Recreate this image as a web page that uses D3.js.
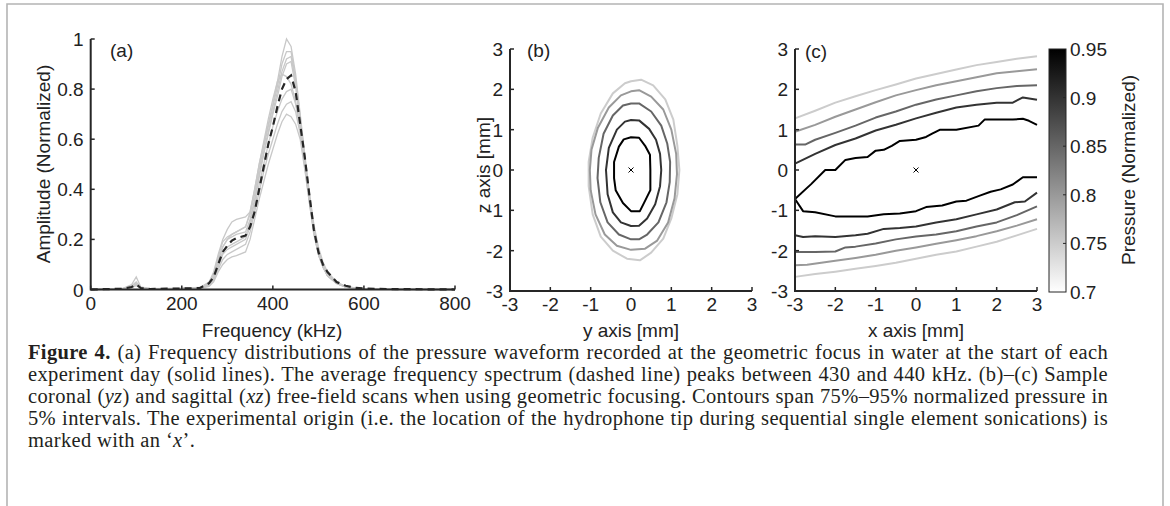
<!DOCTYPE html>
<html><head><meta charset="utf-8">
<script src="https://cdn.jsdelivr.net/npm/d3@7"></script>
<style>body{margin:0;background:#fff}svg{display:block}</style>
</head><body>
<svg id="fig" width="1170" height="506"></svg>
<script>
// ---------- DATA ----------
const freq = [0,70,90,100,110,130,200,240,260,270,280,290,300,310,320,340,350,360,370,380,390,400,410,420,430,440,450,460,470,480,490,500,510,520,540,560,580,600,650,800];
const day1 = [0,.004,.02,.05,.01,.003,.005,.008,.03,.07,.14,.2,.24,.27,.28,.29,.31,.4,.5,.58,.66,.74,.83,.93,1.0,.97,.86,.7,.54,.39,.26,.17,.11,.07,.03,.013,.006,.003,.001,0];
const day2 = [0,.003,.015,.03,.008,.003,.004,.007,.025,.06,.12,.17,.2,.22,.23,.25,.3,.38,.48,.57,.65,.73,.81,.9,.95,.95,.84,.69,.53,.38,.25,.16,.1,.065,.028,.012,.005,.003,.001,0];
const day3 = [0,.003,.012,.025,.007,.002,.004,.006,.02,.05,.11,.17,.2,.21,.22,.23,.28,.36,.46,.55,.63,.71,.79,.87,.92,.93,.83,.68,.52,.37,.24,.15,.095,.06,.026,.011,.005,.002,.001,0];
const day4 = [0,.002,.01,.02,.006,.002,.003,.006,.02,.045,.1,.15,.17,.18,.19,.21,.27,.35,.45,.54,.62,.70,.77,.85,.9,.91,.81,.66,.5,.36,.23,.14,.09,.055,.024,.01,.004,.002,.001,0];
const day5 = [0,.003,.012,.025,.006,.002,.004,.007,.025,.06,.13,.19,.21,.22,.23,.25,.31,.4,.5,.59,.68,.76,.83,.86,.85,.82,.75,.64,.5,.36,.24,.15,.095,.06,.026,.011,.005,.002,.001,0];
const day6 = [0,.002,.01,.02,.005,.002,.003,.005,.018,.04,.09,.14,.16,.17,.18,.2,.25,.33,.42,.5,.58,.65,.71,.76,.79,.8,.74,.64,.5,.36,.23,.14,.09,.055,.024,.01,.004,.002,.001,0];
const day7 = [0,.002,.01,.02,.005,.002,.003,.005,.015,.035,.08,.12,.14,.15,.16,.18,.23,.31,.39,.47,.54,.6,.66,.71,.74,.75,.71,.62,.49,.35,.23,.14,.09,.055,.024,.01,.004,.002,.001,0];
const day8 = [0,.002,.008,.015,.005,.002,.003,.005,.012,.03,.07,.1,.12,.13,.135,.15,.2,.28,.36,.43,.5,.56,.62,.67,.7,.69,.66,.6,.48,.35,.22,.14,.09,.055,.024,.01,.004,.002,.001,0];
const meanSpectrum = [0,.003,.01,.02,.006,.002,.004,.006,.025,.05,.1,.15,.175,.195,.205,.215,.25,.31,.4,.49,.58,.65,.73,.8,.84,.855,.79,.66,.53,.38,.24,.15,.1,.07,.03,.015,.007,.004,.002,0];

const freqTicks = [0,200,400,600,800];
const ampTicks = [0,0.2,0.4,0.6,0.8,1];
const mmTicks = [-3,-2,-1,0,1,2,3];
const levels = [0.75,0.8,0.85,0.9,0.95];
const cbarTicks = [0.7,0.75,0.8,0.85,0.9,0.95];

// panel (b): closed contours [y mm, z mm]
const b75 = [[0,2.2],[0.25,2.24],[0.55,2.1],[0.85,1.75],[1.05,1.25],[1.15,0.6],[1.2,0],[1.15,-0.6],[1.0,-1.2],[0.8,-1.7],[0.5,-2.05],[0.22,-2.24],[-0.1,-2.2],[-0.45,-2.0],[-0.75,-1.65],[-0.95,-1.1],[-1.05,-0.4],[-1.05,0.2],[-0.95,0.8],[-0.75,1.4],[-0.45,1.9],[-0.15,2.15]];
const b80 = [[0,1.95],[0.2,1.98],[0.5,1.82],[0.8,1.5],[1.0,1.0],[1.12,0.4],[1.14,-0.1],[1.08,-0.7],[0.92,-1.3],[0.65,-1.75],[0.35,-1.95],[0,-1.98],[-0.35,-1.88],[-0.65,-1.6],[-0.88,-1.1],[-1.0,-0.5],[-1.02,0],[-0.98,0.5],[-0.82,1.05],[-0.55,1.55],[-0.25,1.85]];
const b85 = [[0,1.65],[0.2,1.65],[0.5,1.45],[0.75,1.1],[0.9,0.65],[0.97,0.2],[0.96,-0.3],[0.88,-0.8],[0.68,-1.3],[0.4,-1.6],[0.2,-1.72],[0,-1.72],[-0.3,-1.6],[-0.58,-1.3],[-0.76,-0.8],[-0.83,-0.2],[-0.8,0.3],[-0.68,0.9],[-0.45,1.35],[-0.2,1.6]];
const b90 = [[0,1.24],[0.2,1.23],[0.45,1.02],[0.62,0.75],[0.72,0.4],[0.75,0],[0.72,-0.4],[0.6,-0.85],[0.4,-1.2],[0.2,-1.38],[0,-1.39],[-0.25,-1.3],[-0.45,-1.05],[-0.58,-0.6],[-0.62,0],[-0.55,0.55],[-0.35,1.0],[-0.15,1.2]];
const b95 = [[0,0.81],[0.2,0.8],[0.35,0.6],[0.47,0.38],[0.48,0],[0.48,-0.5],[0.32,-0.82],[0.22,-1.02],[0,-1.02],[-0.2,-0.82],[-0.38,-0.5],[-0.42,-0.2],[-0.42,0.2],[-0.3,0.58],[-0.18,0.76]];

// panel (c): open contours [x mm, z mm]
const c75top = [[-3,1.28],[-2.5,1.47],[-2,1.67],[-1.5,1.83],[-1,1.98],[-0.5,2.12],[0,2.27],[0.5,2.38],[1,2.49],[1.5,2.6],[2,2.68],[2.5,2.76],[3,2.82]];
const c80top = [[-3,0.95],[-2.5,1.12],[-2,1.32],[-1.5,1.5],[-1,1.68],[-0.5,1.85],[0,1.98],[0.5,2.1],[1,2.2],[1.5,2.3],[2,2.4],[2.5,2.45],[3,2.5]];
const c85top = [[-3,0.63],[-2.75,0.63],[-2.5,0.75],[-2,0.92],[-1.5,1.1],[-1,1.3],[-0.5,1.45],[0,1.62],[0.5,1.75],[1,1.85],[1.5,1.95],[2,2.03],[2.5,2.08],[3,2.1]];
const c90top = [[-3,0.16],[-2.5,0.4],[-2,0.62],[-1.5,0.78],[-1,0.98],[-0.5,1.12],[0,1.28],[0.5,1.42],[1,1.55],[1.5,1.62],[2,1.67],[2.4,1.67],[2.65,1.8],[3,1.74]];
const c95loop = [[3,1.12],[2.8,1.22],[2.65,1.27],[2.4,1.25],[2.15,1.25],[1.7,1.25],[1.55,1.1],[1,1.0],[0.6,1.0],[0.4,0.9],[0.25,0.82],[0,0.75],[-0.4,0.72],[-0.6,0.6],[-0.8,0.5],[-1.0,0.48],[-1.2,0.32],[-1.5,0.3],[-1.75,0.25],[-2.0,0.0],[-2.25,0.0],[-2.6,-0.35],[-3,-0.72],[-2.8,-1.02],[-2.5,-1.05],[-2.0,-1.15],[-1.2,-1.15],[-0.8,-1.1],[-0.4,-1.08],[0,-1.02],[0.25,-0.92],[0.65,-0.88],[1.0,-0.78],[1.25,-0.76],[1.6,-0.63],[1.85,-0.54],[2.1,-0.48],[2.4,-0.36],[2.65,-0.18],[3,-0.18]];
const c90bot = [[-3,-1.62],[-2.8,-1.66],[-2.5,-1.64],[-2,-1.66],[-1.5,-1.62],[-1.2,-1.58],[-0.8,-1.46],[-0.4,-1.44],[0,-1.4],[0.5,-1.3],[1,-1.22],[1.5,-1.1],[2,-0.98],[2.45,-0.8],[2.7,-0.78],[3,-0.56]];
const c85bot = [[-3,-2.03],[-2.5,-2.03],[-2,-2.02],[-1.75,-1.92],[-1.5,-1.9],[-1,-1.82],[-0.5,-1.72],[0,-1.65],[0.5,-1.6],[1,-1.52],[1.5,-1.4],[2,-1.3],[2.5,-1.12],[3,-0.9]];
const c80bot = [[-3,-2.36],[-2.7,-2.35],[-2,-2.25],[-1.5,-2.18],[-1,-2.1],[-0.5,-2.0],[0,-1.92],[0.5,-1.83],[1,-1.74],[1.5,-1.64],[2,-1.52],[2.5,-1.38],[3,-1.22]];
const c75bot = [[-3,-2.65],[-2.5,-2.58],[-2,-2.52],[-1.5,-2.45],[-1,-2.38],[-0.5,-2.3],[0,-2.2],[0.5,-2.1],[1,-2.02],[1.5,-1.9],[2,-1.78],[2.5,-1.62],[3,-1.46]];

const captionLines = [
  [["b","Figure 4."],["n"," (a) Frequency distributions of the pressure waveform recorded at the geometric focus in water at the start of each"]],
  [["n","experiment day (solid lines). The average frequency spectrum (dashed line) peaks between 430 and 440 kHz. (b)\u2013(c) Sample"]],
  [["n","coronal ("],["i","yz"],["n",") and sagittal ("],["i","xz"],["n",") free-field scans when using geometric focusing. Contours span 75%\u201395% normalized pressure in"]],
  [["n","5% intervals. The experimental origin (i.e. the location of the hydrophone tip during sequential single element sonications) is"]],
  [["n","marked with an \u2018"],["i","x"],["n","\u2019."]]
];

// ---------- DRAWING ----------
const svg = d3.select("#fig");
const FONT = "'Liberation Sans', Arial, Helvetica, sans-serif";
const FS = 19;
const AX = "#262626";
const levelColor = d3.scaleLinear().domain([0.7,0.95]).range(["#ffffff","#000000"]);

// border frame
svg.append("path").attr("d","M7,506 L7,4 L1163,4 L1163,506").attr("fill","none").attr("stroke","#b4b4b4").attr("stroke-width",1.6);

function drawAxes(g, x, y, xTicks, yTicks, xFmt, yFmt){
  const [x0,x1] = x.range(), [y0,y1] = y.range();
  g.selectAll(".xt").data(xTicks).join("line").attr("class","xt").attr("x1",d=>x(d)).attr("x2",d=>x(d)).attr("y1",y0).attr("y2",y0-4).attr("stroke",AX).attr("stroke-width",1.5);
  g.selectAll(".yt").data(yTicks).join("line").attr("class","yt").attr("y1",d=>y(d)).attr("y2",d=>y(d)).attr("x1",x0).attr("x2",x0+4).attr("stroke",AX).attr("stroke-width",1.5);
  g.append("path").attr("d",`M${x0},${y1} L${x0},${y0} L${x1},${y0}`).attr("fill","none").attr("stroke",AX).attr("stroke-width",2);
  g.selectAll(".xl").data(xTicks).join("text").attr("class","xl").attr("x",d=>x(d)).attr("y",y0+20).attr("text-anchor","middle")
    .attr("font-family",FONT).attr("font-size",FS).attr("fill","#222").text(xFmt);
  g.selectAll(".yl").data(yTicks).join("text").attr("class","yl").attr("x",x0-7).attr("y",d=>y(d)+7).attr("text-anchor","end")
    .attr("font-family",FONT).attr("font-size",FS).attr("fill","#222").text(yFmt);
}
function label(g, txt, x, y, rot){
  const t = g.append("text").attr("font-family",FONT).attr("font-size",FS).attr("fill","#222").attr("text-anchor","middle").text(txt);
  if(rot) t.attr("transform",`translate(${x},${y}) rotate(-90)`); else t.attr("x",x).attr("y",y);
}
function marker(g,x,y){
  g.append("path").attr("d",`M${x-2.5},${y-2.5}L${x+2.5},${y+2.5}M${x-2.5},${y+2.5}L${x+2.5},${y-2.5}`).attr("stroke","#000").attr("stroke-width",1);
}

// ---- Panel (a)
const ga = svg.append("g");
const xa = d3.scaleLinear().domain([0,800]).range([90.7,455]);
const ya = d3.scaleLinear().domain([0,1]).range([289.5,39]);
const lineA = d3.line().x((d,i)=>xa(freq[i])).y(d=>ya(d));
[day1,day2,day3,day4,day5,day6,day7,day8].forEach(s=>{
  ga.append("path").attr("d",lineA(s)).attr("fill","none").attr("stroke","#c8c8c8").attr("stroke-width",1.3);
});
ga.append("path").attr("d",lineA(meanSpectrum)).attr("fill","none").attr("stroke","#262626").attr("stroke-width",2.2).attr("stroke-dasharray","7,5");
drawAxes(ga, xa, ya, freqTicks, ampTicks, d=>d, d=>d===0||d===1?d:d.toFixed(1));
ga.append("text").attr("x",110).attr("y",57).attr("font-family",FONT).attr("font-size",FS).attr("fill","#222").text("(a)");
label(ga,"Amplitude (Normalized)",50,164,true);
label(ga,"Frequency (kHz)",272,337,false);

// ---- Panel (b)
const gb = svg.append("g");
const xb = d3.scaleLinear().domain([-3,3]).range([510,752]);
const yb = d3.scaleLinear().domain([-3,3]).range([291,49]);
const lineB = d3.line().x(d=>xb(d[0])).y(d=>yb(d[1])).curve(d3.curveLinearClosed);
[[b75,0.75],[b80,0.8],[b85,0.85],[b90,0.9],[b95,0.95]].forEach(([pts,lv])=>{
  gb.append("path").attr("d",lineB(pts)).attr("fill","none").attr("stroke",levelColor(lv)).attr("stroke-width",2).attr("stroke-linejoin","round");
});
marker(gb,xb(0),yb(0));
drawAxes(gb, xb, yb, mmTicks, mmTicks, d=>d, d=>d);
gb.append("text").attr("x",527).attr("y",57).attr("font-family",FONT).attr("font-size",FS).attr("fill","#222").text("(b)");
label(gb,"z axis [mm]",490,165,true);
label(gb,"y axis [mm]",631,337,false);

// ---- Panel (c)
const gc = svg.append("g");
const xc = d3.scaleLinear().domain([-3,3]).range([795,1037]);
const yc = d3.scaleLinear().domain([-3,3]).range([291,49]);
const lineC = d3.line().x(d=>xc(d[0])).y(d=>yc(d[1]));
[[c75top,0.75],[c80top,0.8],[c85top,0.85],[c90top,0.9],[c95loop,0.95],[c90bot,0.9],[c85bot,0.85],[c80bot,0.8],[c75bot,0.75]].forEach(([pts,lv])=>{
  gc.append("path").attr("d",lineC(pts)).attr("fill","none").attr("stroke",levelColor(lv)).attr("stroke-width",2).attr("stroke-linejoin","round");
});
marker(gc,xc(0),yc(0));
drawAxes(gc, xc, yc, mmTicks, mmTicks, d=>d, d=>d);
gc.append("text").attr("x",805).attr("y",58).attr("font-family",FONT).attr("font-size",FS).attr("fill","#222").text("(c)");
label(gc,"x axis [mm]",916,337,false);

// ---- Colorbar
const gcb = svg.append("g");
const ycb = d3.scaleLinear().domain([0.7,0.95]).range([292,49]);
const defs = svg.append("defs");
const grad = defs.append("linearGradient").attr("id","cbg").attr("x1",0).attr("x2",0).attr("y1",1).attr("y2",0);
grad.selectAll("stop").data([0.7,0.95]).join("stop").attr("offset",d=>(d-0.7)/0.25).attr("stop-color",d=>levelColor(d));
gcb.append("rect").attr("x",1049).attr("y",ycb(0.95)).attr("width",17).attr("height",ycb(0.7)-ycb(0.95)).attr("fill","url(#cbg)").attr("stroke",AX).attr("stroke-width",1);
gcb.selectAll(".ct").data(cbarTicks.slice(1,-1)).join("line").attr("x1",1066).attr("x2",1063).attr("y1",d=>ycb(d)).attr("y2",d=>ycb(d)).attr("stroke",AX).attr("stroke-width",1);
gcb.selectAll(".cl").data(cbarTicks).join("text").attr("x",1070).attr("y",d=>ycb(d)+7).attr("font-family",FONT).attr("font-size",FS).attr("fill","#222").text(d=>d);
label(gcb,"Pressure (Normalized)",1135,170,true);

// ---- Caption (justified lines)
const cap = svg.append("g").attr("font-family","'Liberation Serif','Times New Roman',serif").attr("font-size",20.5).attr("letter-spacing",0.35).attr("fill","#231f20");
const capX = 28, capRight = 1108;
captionLines.forEach((segs,i)=>{
  const t = cap.append("text").attr("x",capX).attr("y",359+i*22);
  segs.forEach(([k,s])=>{
    const ts = t.append("tspan").text(s);
    if(k==="b") ts.attr("font-weight","bold");
    if(k==="i") ts.attr("font-style","italic");
  });
  if(i < captionLines.length-1){
    const w = t.node().getComputedTextLength();
    const nSpaces = segs.map(s=>s[1]).join("").split(" ").length-1;
    const ws = Math.max(0,(capRight-capX-w)/nSpaces);
    t.attr("word-spacing", ws.toFixed(2));
  }
});
</script>
</body></html>
